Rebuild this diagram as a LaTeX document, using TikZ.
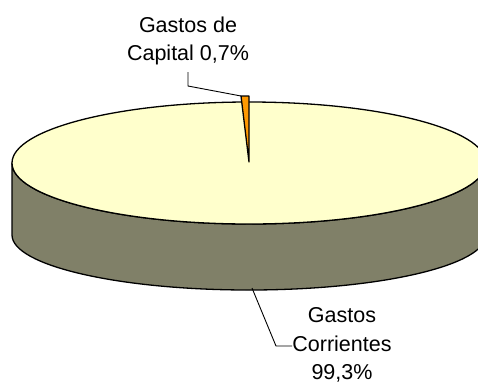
\documentclass[tikz,border=0pt]{standalone}
\usepackage{fontspec}
\setmainfont{Liberation Sans}
\definecolor{topyellow}{RGB}{255,255,204}
\definecolor{sidegray}{RGB}{128,128,104}
\definecolor{sliceorange}{RGB}{255,153,0}
\begin{document}
\begin{tikzpicture}[
            x=1pt,
            y=1pt,
            pieline/.style={draw=black, line width=1.3pt, line join=round},
            leader/.style={draw=black, line width=0.9pt},
            lbl/.style={align=center, inner sep=0pt, anchor=north,
                        font=\fontsize{21.5}{28.5}\selectfont}
        ]

        \useasboundingbox (0,0) rectangle (478,-383);
        \clip (0,0) rectangle (478,-383);

        \coordinate (ctop) at (249, -163);
        \coordinate (cbot) at (249, -235);

        \coordinate (sl1) at (241, -96);
        \coordinate (sl2) at (249, -96);
        \coordinate (sl3) at (249, -162);

        \coordinate (capbend) at (188, -86);
        \coordinate (capend) at (188, -72);
        \coordinate (corstart) at (252, -288);
        \coordinate (corbend) at (276, -346);

        % side of the disc
        \filldraw[pieline, fill=sidegray] (12, -163) -- (12, -235)
            arc[start angle=180, end angle=360, x radius=237pt, y radius=55pt]
            -- (486, -163)
            arc[start angle=0, end angle=-180, x radius=237pt, y radius=61pt]
            -- cycle;

        % top face
        \filldraw[pieline, fill=topyellow] (ctop) ellipse [x radius=237pt, y radius=61pt];

        % exploded slice
        \filldraw[pieline, fill=sliceorange] (sl1) -- (sl2) -- (sl3) -- cycle;

        % labels
        \node[lbl] (capital) at (188, -16.5) {Gastos de\\Capital 0,7\%};
        \node[lbl] (corrientes) at (342, -307.5) {Gastos\\Corrientes\\99,3\%};

        % leaders
        \draw[leader] (capend) -- (capbend) -- (sl1);
        \draw[leader] (corstart) -- (corbend) -- (corrientes.west |- corbend);

        \end{tikzpicture}
\end{document}
